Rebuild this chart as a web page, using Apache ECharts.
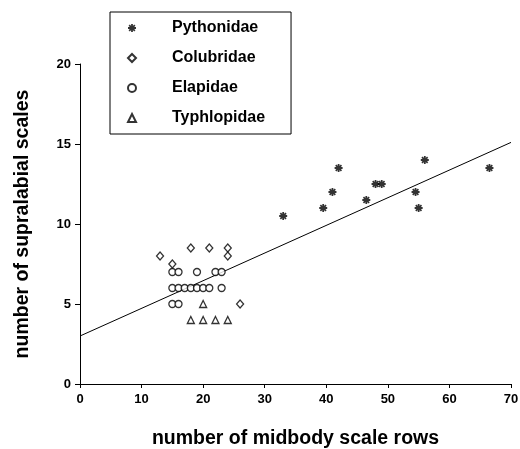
<!DOCTYPE html>
<html>
<head>
<meta charset="utf-8">
<script src="https://cdn.jsdelivr.net/npm/echarts@6/dist/echarts.min.js"></script>
<style>html,body{margin:0;padding:0;background:#fff}#c{width:520px;height:449px}</style>
</head>
<body>
<div id="c"></div>
<script>
var pythonidae = [[33,10.5],[39.5,11],[41,12],[42,13.5],[46.5,11.5],[48,12.5],[49,12.5],[54.5,12],[55,11],[56,14],[66.5,13.5]];
var colubridae = [[13,8],[15,7.5],[18,8.5],[21,8.5],[24,8.5],[24,8],[26,5]];
var elapidae = [[15,7],[16,7],[19,7],[22,7],[23,7],[15,6],[16,6],[17,6],[18,6],[19,6],[20,6],[21,6],[23,6],[15,5],[16,5]];
var typhlopidae = [[20,5],[18,4],[20,4],[22,4],[24,4]];
var regressionLine = [[0,3],[70,15.1]];
var xTicks = [0,10,20,30,40,50,60,70];
var yTicks = [0,5,10,15,20];
var seriesNames = ['Pythonidae','Colubridae','Elapidae','Typhlopidae'];

var FONT = 'Liberation Sans, Arial, Helvetica, sans-serif';
var starPath = 'path://M-1.1,-5L1.1,-5L1.1,5L-1.1,5Z M-5,-1.1L5,-1.1L5,1.1L-5,1.1Z M-4.3,-2.8L-2.8,-4.3L4.3,2.8L2.8,4.3Z M2.8,-4.3L4.3,-2.8L-2.8,4.3L-4.3,2.8Z';
var hollow = {color:'#fff', borderColor:'#000', borderWidth:1.3};

var chart = echarts.init(document.getElementById('c'), null, {renderer:'canvas'});
chart.setOption({
  animation:false,
  backgroundColor:'#fff',
  grid:{left:80, right:9, top:64, bottom:65, containLabel:false, outerBoundsMode:'none'},
  xAxis:{
    type:'value', min:xTicks[0], max:xTicks[xTicks.length-1], interval:10,
    name:'number of midbody scale rows', nameLocation:'middle', nameGap:45,
    nameTextStyle:{fontFamily:FONT, fontWeight:'bold', fontSize:19.5, color:'#000'},
    axisLine:{show:true, onZero:false, lineStyle:{color:'#000', width:1}},
    axisTick:{show:true, length:4, lineStyle:{color:'#000'}},
    axisLabel:{fontFamily:FONT, fontWeight:'bold', fontSize:13, color:'#000', margin:9},
    splitLine:{show:false}
  },
  yAxis:{
    type:'value', min:yTicks[0], max:yTicks[yTicks.length-1], interval:5,
    name:'number of supralabial scales', nameLocation:'middle', nameGap:47,
    nameTextStyle:{fontFamily:FONT, fontWeight:'bold', fontSize:19.5, color:'#000'},
    axisLine:{show:true, onZero:false, lineStyle:{color:'#000', width:1}},
    axisTick:{show:true, length:5, lineStyle:{color:'#000'}},
    axisLabel:{fontFamily:FONT, fontWeight:'bold', fontSize:13, color:'#000', margin:9},
    splitLine:{show:false}
  },
  legend:{
    data:seriesNames, orient:'vertical', left:110, top:12,
    itemWidth:8, itemHeight:8, itemGap:14,
    padding:[8,26,8,17],
    borderColor:'#000', borderWidth:1,
    textStyle:{fontFamily:FONT, fontWeight:'bold', fontSize:16, color:'#000', padding:[0,0,0,31]}
  },
  series:[
    {name:seriesNames[0], type:'scatter', data:pythonidae, symbol:starPath, symbolSize:8, itemStyle:{color:'#000'}, z:5},
    {name:seriesNames[1], type:'scatter', data:colubridae, symbol:'diamond', symbolSize:[7,8], itemStyle:hollow, z:5},
    {name:seriesNames[2], type:'scatter', data:elapidae, symbol:'circle', symbolSize:7, itemStyle:hollow, z:4},
    {name:seriesNames[3], type:'scatter', data:typhlopidae, symbol:'triangle', symbolSize:7, itemStyle:hollow, z:5},
    {name:'fit', type:'line', data:regressionLine, symbol:'none', lineStyle:{color:'#000', width:1}, z:3, silent:true}
  ]
});
</script>
</body>
</html>
